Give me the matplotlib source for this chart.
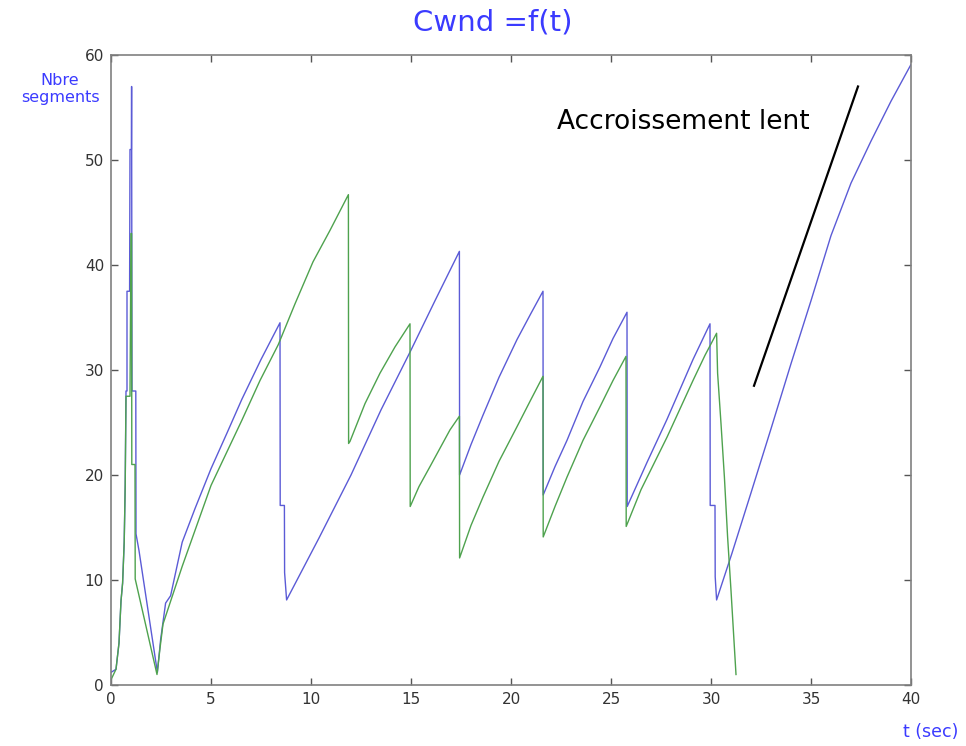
import matplotlib
matplotlib.use("Agg")
import matplotlib.pyplot as plt

# Cwnd (segments) vs time (sec)
blue_t = [0, 0.25, 0.4, 0.5, 0.58, 0.66, 0.71, 0.75, 0.80, 0.80, 0.93, 0.95, 1.02, 1.03, 1.05,
          1.24, 1.25, 1.4, 2.32, 2.48, 2.73, 2.98, 3.56, 4.2, 5.0, 5.8, 6.54, 7.5, 8.45,
          8.46, 8.67, 8.68, 8.78, 10.4, 12.0, 13.5, 14.95, 16.2, 17.42,
          17.43, 18.0, 18.6, 19.4, 20.3, 21.0, 21.6,
          21.61, 22.2, 22.8, 23.6, 24.45, 25.1, 25.8,
          25.81, 26.8, 27.8, 29.1, 29.95,
          29.96, 30.2, 30.21, 30.28, 31.04, 32.0, 33.0, 34.0, 35.0, 36.0, 37.0, 38.0, 39.0, 40.0]
blue_y = [1.2, 1.5, 4, 8, 9.7, 13.6, 19, 28, 28, 37.5, 37.5, 51, 51, 57, 28,
          28, 14.4, 12.8, 1.2, 4.3, 7.8, 8.5, 13.6, 16.8, 20.6, 24.0, 27.2, 31.0, 34.5,
          17.1, 17.1, 10.7, 8.1, 14.0, 20.0, 26.2, 31.7, 36.6, 41.3,
          20.0, 22.9, 25.7, 29.3, 32.9, 35.4, 37.5,
          18.1, 20.8, 23.3, 27.0, 30.3, 33.0, 35.5,
          17.0, 21.2, 25.3, 31.0, 34.4,
          17.1, 17.1, 10.3, 8.1, 12.5, 18.3, 24.4, 30.6, 36.6, 42.8, 47.8, 51.8, 55.6, 59.1]

green_t = [0, 0.25, 0.4, 0.5, 0.58, 0.66, 0.71, 0.75, 0.95, 1.0, 1.03, 1.04, 1.2, 1.21,
           2.3, 2.45, 2.6, 3.56, 5.0, 6.54, 7.45, 8.36, 9.2, 10.1, 10.95, 11.87,
           11.88, 11.95, 12.7, 13.45, 14.2, 14.95,
           14.96, 15.4, 15.95, 16.95, 17.42,
           17.43, 18.0, 18.6, 19.4, 20.3, 21.0, 21.6,
           21.61, 22.2, 22.8, 23.6, 24.45, 25.1, 25.75,
           25.76, 26.5, 27.8, 29.1, 29.7, 30.28,
           30.33, 30.5, 30.67, 30.83, 31.0, 31.25]
green_y = [0.5, 1.5, 4, 8, 9.7, 13.6, 19, 27.5, 27.5, 43, 43, 21, 21, 10.1,
           1.0, 3.5, 5.8, 11.3, 19.0, 25.2, 29.0, 32.4, 36.3, 40.3, 43.3, 46.7,
           23.0, 23.2, 26.8, 29.7, 32.2, 34.4,
           17.0, 18.9, 20.8, 24.3, 25.6,
           12.1, 15.2, 17.9, 21.3, 24.6, 27.2, 29.4,
           14.1, 17.0, 19.8, 23.3, 26.5, 29.0, 31.3,
           15.1, 18.6, 23.6, 29.0, 31.4, 33.5,
           29.7, 24.9, 19.8, 14.1, 9.0, 1.0]

# hand-drawn annotation stroke
note_t = [32.15, 37.35]
note_y = [28.5, 57.0]

x_ticks = [0, 5, 10, 15, 20, 25, 30, 35, 40]
y_ticks = [0, 10, 20, 30, 40, 50, 60]

blue_txt = '#3b3bff'

fig = plt.figure(figsize=(9.66, 7.46), dpi=100)
ax = fig.add_axes([111/966, 61/746, 800/966, 630/746])

ax.plot(blue_t, blue_y, color='#5b5bd6', lw=1.0)
ax.plot(green_t, green_y, color='#4ea24e', lw=1.0)
ax.plot(note_t, note_y, color='black', lw=1.6)

ax.text(22.3, 53.6, 'Accroissement lent', fontsize=19, va='center', ha='left')

ax.set_xlim(0, 40)
ax.set_ylim(0, 60)
ax.set_xticks(x_ticks)
ax.set_yticks(y_ticks)
ax.tick_params(direction='in', top=True, right=True, length=5, width=1,
               color='#555555', labelsize=11, labelcolor='#333333', pad=5)
for s in ax.spines.values():
    s.set_color('#808080')
    s.set_linewidth(1.2)

fig.text(493/966, 1 - 22/746, 'Cwnd =f(t)', color=blue_txt, fontsize=21,
         ha='center', va='center')
fig.text(60/966, 1 - 89/746, 'Nbre\nsegments', color=blue_txt, fontsize=11.5,
         ha='center', va='center', linespacing=1.1)
fig.text(931/966, 1 - 732/746, 't (sec)', color=blue_txt, fontsize=12.5,
         ha='center', va='center')

fig.savefig('out.png', dpi=100)
